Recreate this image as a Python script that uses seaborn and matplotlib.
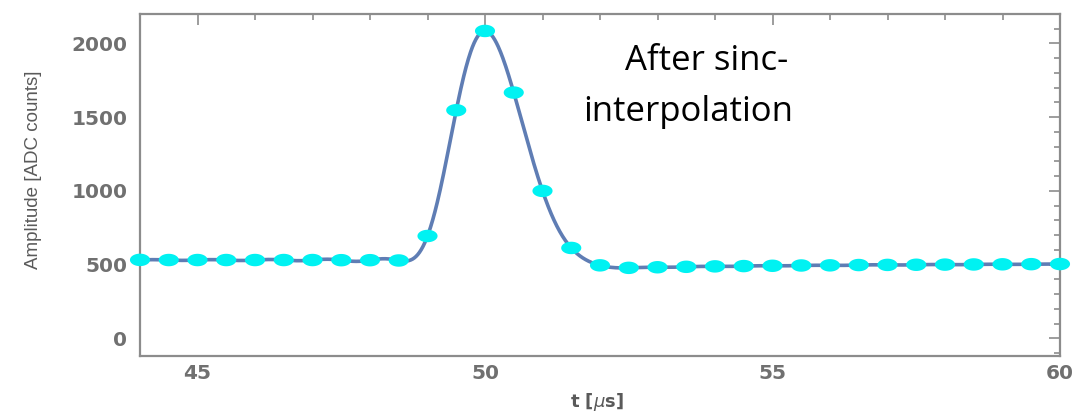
import numpy as np
import pandas as pd
import matplotlib
matplotlib.use("Agg")
import matplotlib.pyplot as plt
from matplotlib.path import Path
from matplotlib.ticker import MultipleLocator
import seaborn as sns

# ---- data ----
t_samples = [44.0, 44.5, 45.0, 45.5, 46.0, 46.5, 47.0, 47.5, 48.0, 48.5,
             49.0, 49.5, 50.0, 50.5, 51.0, 51.5, 52.0, 52.5, 53.0, 53.5,
             54.0, 54.5, 55.0, 55.5, 56.0, 56.5, 57.0, 57.5, 58.0, 58.5,
             59.0, 59.5, 60.0]
amp_samples = [532, 531, 531, 531, 531, 531, 531, 530, 530, 528,
               694, 1547, 2085, 1667, 1000, 613, 495, 478, 482, 485,
               488, 490, 492, 494, 495, 497, 498, 499, 500, 501,
               502, 503, 504]
x_ticks = [45, 50, 55, 60]
y_ticks = [0, 500, 1000, 1500, 2000]
x_label = "t [$\\mu$s]"
y_label = "Amplitude [ADC counts]"
note_lines = ["After sinc-", "interpolation"]

sns.set_theme(style="white")
plt.rcParams["font.family"] = ["DejaVu Sans"]

# sinc (Whittaker-Shannon) reconstruction of the sampled pulse, as shown
ts = np.array(t_samples)
ys = np.array(amp_samples, dtype=float)
T = ts[1] - ts[0]
base = ys[0] + (ys[-1] - ys[0]) * (ts - ts[0]) / (ts[-1] - ts[0])
resid = ys - base
tf = np.linspace(ts[0], ts[-1], 1601)
basef = ys[0] + (ys[-1] - ys[0]) * (tf - ts[0]) / (ts[-1] - ts[0])
yf = basef + np.sum(resid[None, :] * np.sinc((tf[:, None] - ts[None, :]) / T), axis=1)

df_pts = pd.DataFrame({"t": t_samples, "amp": amp_samples})
df_line = pd.DataFrame({"t": tf, "amp": yf})

fig = plt.figure(figsize=(10.79, 4.15), dpi=100)
ax = fig.add_axes([140 / 1079, 1 - 356 / 415, 920 / 1079, 342 / 415])

sns.lineplot(data=df_line, x="t", y="amp", ax=ax, color="#5F7DB4", lw=2.6,
             zorder=2, clip_on=True)

th = np.linspace(0, 2 * np.pi, 41)
ell = Path(np.column_stack([np.cos(th), 0.62 * np.sin(th)]), closed=True)
sns.scatterplot(data=df_pts, x="t", y="amp", ax=ax, marker=ell, s=14.5 ** 2,
                color="#00F2F2", edgecolor="none", linewidth=0, zorder=3,
                clip_on=False)

ax.set_xlim(44, 60)
ax.set_ylim(-120, 2200)
ax.set_xticks(x_ticks)
ax.set_yticks(y_ticks)
ax.xaxis.set_minor_locator(MultipleLocator(1))
ax.yaxis.set_minor_locator(MultipleLocator(100))
frame_col = "#8c8c8c"
for s in ax.spines.values():
    s.set_color(frame_col)
    s.set_linewidth(1.6)
ax.tick_params(which="both", direction="in", top=True, right=True,
               color=frame_col, width=1.2)
ax.tick_params(which="major", length=8)
ax.tick_params(which="minor", length=4.5)
ax.tick_params(axis="both", which="major", labelsize=14.5, labelcolor="#707070")
ax.tick_params(axis="x", which="major", pad=6)
ax.tick_params(axis="y", which="major", pad=9)
for lab in ax.get_xticklabels() + ax.get_yticklabels():
    lab.set_fontweight("bold")

ax.set_xlabel(x_label, fontsize=13, color="#5a5a5a", fontweight="bold")
ax.xaxis.set_label_coords(0.497, -0.134)
ax.xaxis.label.set_va("center")
ax.set_ylabel(y_label, fontsize=13.5, color="#5a5a5a",
              family=["Liberation Sans", "DejaVu Sans"])
ax.yaxis.set_label_coords(-0.106, 0.545)

note_font = ["Open Sans", "DejaVu Sans"]
ax.text((625 - 140) / 920, 1 - (70 - 14) / 342, note_lines[0],
        transform=ax.transAxes, fontsize=25, color="black",
        family=note_font, ha="left", va="baseline")
ax.text((583 - 140) / 920, 1 - (121 - 14) / 342, note_lines[1],
        transform=ax.transAxes, fontsize=25, color="black",
        family=note_font, ha="left", va="baseline")

fig.savefig("out.png", dpi=100)
